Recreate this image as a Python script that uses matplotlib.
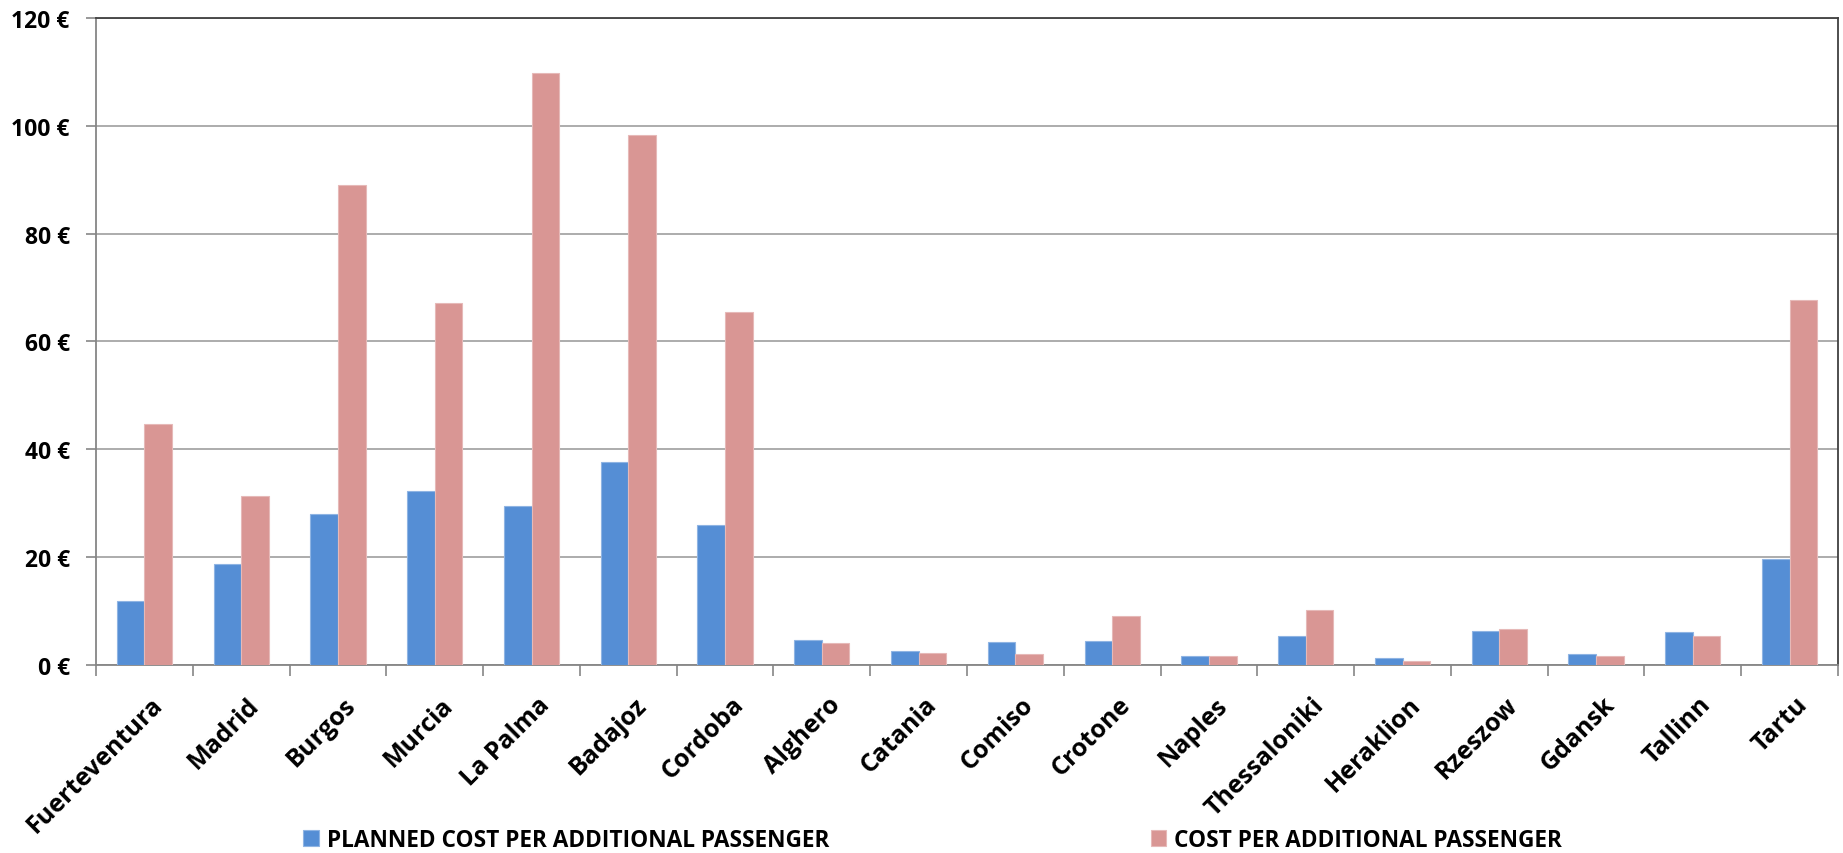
import matplotlib
matplotlib.use("Agg")
import matplotlib.pyplot as plt
from matplotlib.ticker import FixedLocator, FuncFormatter
import numpy as np

airports = ["Fuerteventura", "Madrid", "Burgos", "Murcia", "La Palma", "Badajoz",
            "Cordoba", "Alghero", "Catania", "Comiso", "Crotone", "Naples",
            "Thessaloniki", "Heraklion", "Rzeszow", "Gdansk", "Tallinn", "Tartu"]
planned_cost = [12.0, 18.7, 28.1, 32.3, 29.5, 37.7, 26.0, 4.8, 2.6, 4.3, 4.5, 1.7,
                5.4, 1.4, 6.4, 2.2, 6.2, 19.7]
actual_cost = [44.8, 31.4, 89.0, 67.1, 109.7, 98.2, 65.5, 4.2, 2.3, 2.1, 9.2, 1.7,
               10.3, 0.9, 6.7, 1.8, 5.5, 67.6]
series_names = ["PLANNED COST PER ADDITIONAL PASSENGER", "COST PER ADDITIONAL PASSENGER"]
y_ticks = [0, 20, 40, 60, 80, 100, 120]

plt.rcParams['font.family'] = ['Open Sans', 'DejaVu Sans']

fig = plt.figure(figsize=(18.43, 8.54), dpi=100)
ax = fig.add_axes([0.0521, 0.2196, 0.9452, 0.7587])

x = np.arange(len(airports))
w = 0.285
ax.bar(x - w / 2, planned_cost, width=w, color="#558ED5", edgecolor="#8FB4E3",
       linewidth=0.8, zorder=3, label=series_names[0])
ax.bar(x + w / 2, actual_cost, width=w, color="#D99694", edgecolor="#E6B9B8",
       linewidth=0.8, zorder=3, label=series_names[1])

ax.set_xlim(-0.5, len(airports) - 0.5)
ax.set_ylim(0, 120)
ax.yaxis.set_major_locator(FixedLocator(y_ticks))
ax.yaxis.set_major_formatter(FuncFormatter(lambda v, p: f"{int(v)} €"))
ax.grid(axis="y", color="#A6A6A6", linewidth=1.3, zorder=0)

ax.set_xticks(x + 0.06)
ax.set_xticklabels(airports, rotation=45, ha="right", va="top", rotation_mode="anchor",
                   fontsize=18, fontweight="bold")
ax.set_xticks(np.arange(-0.5, len(airports) + 0.5, 1), minor=True)
ax.tick_params(axis="x", which="major", length=0, pad=19)
ax.tick_params(axis="x", which="minor", length=8, width=1.2, color="#868686", direction="out")
ax.tick_params(axis="y", length=7, width=1.2, color="#868686", direction="out", pad=12,
               labelsize=16.5)
for lbl in ax.get_yticklabels():
    lbl.set_fontweight("bold")

for side in ["left", "bottom"]:
    ax.spines[side].set_color("#868686")
    ax.spines[side].set_linewidth(1.3)
for side in ["top", "right"]:
    ax.spines[side].set_color("#404040")
    ax.spines[side].set_linewidth(1.3)

fig.legend(loc="center", bbox_to_anchor=(0.506, 0.015), ncol=2, frameon=False,
           prop={"size": 16.3, "weight": "bold"}, handlelength=0.7, handleheight=0.7,
           handletextpad=0.35, columnspacing=14.2, borderaxespad=0)

fig.savefig("out.png", dpi=100)
